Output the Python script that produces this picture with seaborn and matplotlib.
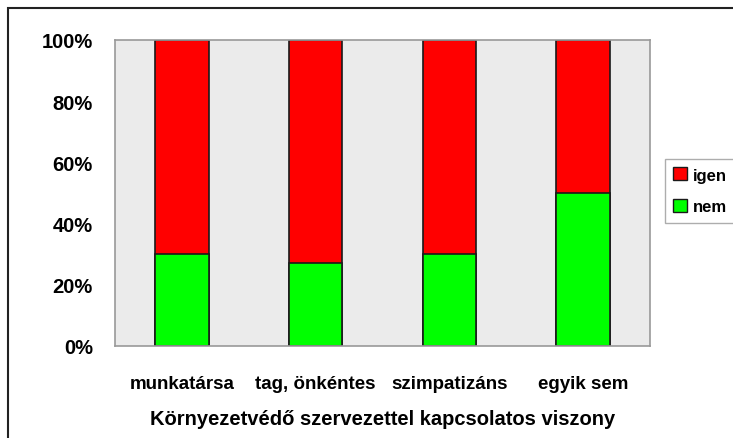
import numpy as np
import pandas as pd
import matplotlib.pyplot as plt
import seaborn as sns
from matplotlib.patches import Patch, Rectangle

categories = ['munkatársa', 'tag, önkéntes', 'szimpatizáns', 'egyik sem']
nem = [30, 27, 30, 50]
igen = [70, 73, 70, 50]

df = pd.DataFrame({'kat': categories, 'nem': nem, 'igen': igen})
df['total'] = df['nem'] + df['igen']

sns.set_style('white')
plt.rcParams['font.family'] = ['Liberation Sans', 'DejaVu Sans']
plt.rcParams['text.color'] = 'black'
plt.rcParams['xtick.color'] = 'black'
plt.rcParams['ytick.color'] = 'black'
plt.rcParams['axes.labelcolor'] = 'black'

fig = plt.figure(figsize=(7.33, 4.39), dpi=100)
ax = fig.add_axes([115 / 733, 1 - 347 / 439, 535 / 733, 306 / 439])
ax.set_facecolor('#ebebeb')

sns.barplot(data=df, x='kat', y='total', color='#ff0000', saturation=1,
            width=0.4, edgecolor='#1a1a1a', linewidth=1.2, ax=ax)
sns.barplot(data=df, x='kat', y='nem', color='#00ff00', saturation=1,
            width=0.4, edgecolor='#1a1a1a', linewidth=1.2, ax=ax)

ax.set_ylim(0, 100)
ax.set_xlim(-0.5, 3.5)
ax.set_yticks(range(0, 101, 20))
ax.set_yticklabels([f'{v}%' for v in range(0, 101, 20)], fontsize=14.5, fontweight='bold')
ax.set_xticks(range(len(categories)))
ax.set_xticklabels(categories, fontsize=13.5, fontweight='bold')
ax.tick_params(axis='x', pad=21, length=0)
ax.tick_params(axis='y', pad=16, length=0)
ax.set_xlabel('Környezetvédő szervezettel kapcsolatos viszony', fontsize=14.5,
              fontweight='bold', labelpad=12)
ax.set_ylabel('')
for s in ax.spines.values():
    s.set_color('#999999')
    s.set_linewidth(1.2)

# outer frame
fig.patches.append(Rectangle((8 / 733, -0.01), 1.0, 1 - 9 / 439 + 0.01,
                             transform=fig.transFigure, fill=False,
                             edgecolor='#222222', linewidth=1.5))

handles = [Patch(facecolor='#ff0000', edgecolor='#1a1a1a', label='igen'),
           Patch(facecolor='#00ff00', edgecolor='#1a1a1a', label='nem')]
leg = fig.legend(handles=handles, loc='upper left',
                 bbox_to_anchor=(665 / 733, 1 - 160 / 439),
                 prop={'weight': 'bold', 'size': 12}, frameon=True,
                 fancybox=False, handlelength=0.8, handleheight=0.8,
                 handletextpad=0.35, borderpad=0.5, labelspacing=1.0,
                 borderaxespad=0)
leg.get_frame().set_edgecolor('#999999')
leg.get_frame().set_linewidth(1.0)

fig.savefig('out.png', dpi=100)
